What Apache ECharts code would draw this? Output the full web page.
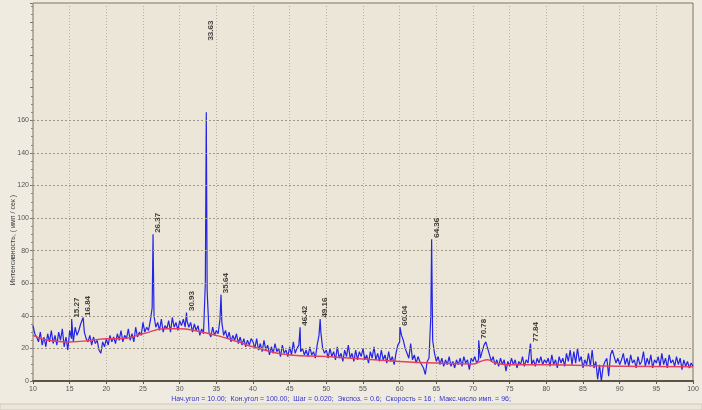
<!DOCTYPE html>
<html>
<head>
<meta charset="utf-8">
<script src="https://cdn.jsdelivr.net/npm/echarts@6/dist/echarts.min.js"></script>
<style>
html,body{margin:0;padding:0;background:#EFEBE0;}
#chart{width:702px;height:410px;}
</style>
</head>
<body>
<div id="chart"></div>
<script>
// Scan grid (degrees 2θ) as in the instrument header
const scanStart = 10;
const scanStep = 0.25;

const counts10to20 = [34,29,27,24,30,22,27,21,29,24,31,23,28,22,30,25,32,21,27,19,31,26,24,33,28,31,35,34,30,26,24,28,22,27,23,25,19,17,24,21];
const counts20to30 = [26,22,28,24,27,23,29,25,31,24,28,26,32,25,29,24,33,27,30,28,36,30,33,31,37,45,40,33,36,31,38,30,34,32,37,30,39,33,36,31];
const counts30to40 = [37,34,38,33,37,33,36,30,35,31,34,28,32,29,60,55,30,27,33,28,31,29,38,36,28,31,26,30,24,28,25,29,23,27,22,26,21,25,22,26];
const counts40to50 = [24,20,26,19,23,18,25,19,22,16,21,17,23,18,20,15,22,17,19,15,21,16,24,17,20,22,18,20,16,19,15,21,16,18,14,22,28,30,20,17];
const counts50to60 = [19,14,20,15,18,13,21,14,17,12,19,15,22,14,17,12,19,13,18,15,20,13,16,11,18,14,21,13,17,12,19,13,16,11,18,12,15,10,17,22];
const counts60to70 = [24,28,25,20,17,14,23,13,16,11,15,12,10,8,4,12,14,40,25,17,12,15,10,14,9,13,10,15,9,12,8,13,10,14,9,15,11,13,7,14];
const counts70to80 = [12,15,11,13,14,18,22,24,20,16,12,15,10,13,9,14,10,13,6,12,9,14,10,13,8,12,10,15,9,13,11,12,10,13,9,14,11,15,10,13];
const counts80to90 = [11,14,9,16,10,13,8,15,11,14,9,17,12,19,10,18,11,20,12,15,8,13,10,17,9,19,8,12,1,10,0,9,12,14,3,16,19,15,11,14];
const counts90to100 = [10,13,17,10,14,9,16,11,13,8,15,10,12,18,9,14,10,16,8,13,11,15,9,17,10,14,8,16,11,13,9,15,10,14,7,13,9,12,8,11,9];

// Identified reflections
const peakAngles = [15.27,16.84,26.37,30.93,33.63,35.64,46.42,49.16,60.04,64.36,70.78,77.84];
const peakCounts = [38,39,90,42,165,53,33,38,33,87,25,23];
const peakLabels = ['15.27','16.84','26.37','30.93','33.63','35.64','46.42','49.16','60.04','64.36','70.78','77.84'];

// Fitted background (red curve)
const bgAngles = [10,12,15,18,20,22,25,28,30,32,35,38,40,45,50,55,60,65,70,71,72,73,75,80,90,100];
const bgCounts = [28,25,24,25,26,26,29,32,32,31,28,24,21,16,15,13.5,12,11,10.5,12,13,11,10,10,9,8.8];

// Axis ticks
const yTicks = [0,20,40,60,80,100,120,140,160];
const yLabelTop = 160;
const labelCeiling = 208;

const headerText = 'Нач.угол = 10.00;  Кон.угол = 100.00;  Шаг = 0.020;  Экспоз. = 0.6;  Скорость = 16 ;  Макс.число имп. = 96;';
const yTitle = 'Интенсивность, ( имп / сек )';

// ---- build ----
const allCounts = [].concat(counts10to20,counts20to30,counts30to40,counts40to50,counts50to60,counts60to70,counts70to80,counts80to90,counts90to100);
let pts = allCounts.map((c,i)=>[+(scanStart + i*scanStep).toFixed(2), c]);
peakAngles.forEach((a,i)=>pts.push([a, peakCounts[i]]));
pts.sort((p,q)=>p[0]-q[0]);

const bgData = bgAngles.map((a,i)=>[a,bgCounts[i]]);
const peakData = peakAngles.map((a,i)=>({value:[a, peakCounts[i] > 150 ? labelCeiling : peakCounts[i]], name:peakLabels[i]}));

const chart = echarts.init(document.getElementById('chart'), null, {renderer:'canvas'});
const font = 'Liberation Sans';
chart.setOption({
  backgroundColor:'#EFEBE0',
  animation:false,
  grid:{left:33,right:9,top:3,bottom:29,show:true,backgroundColor:'#ECE6D8',borderColor:'#7d7565',borderWidth:1},
  xAxis:{type:'value',min:10,max:100,interval:5,
    axisLine:{onZero:false,lineStyle:{color:'#5b5446',width:2}},
    axisTick:{length:3,lineStyle:{color:'#5b5446'}},
    axisLabel:{fontSize:7,color:'#555',margin:5,fontFamily:font},
    splitLine:{show:true,lineStyle:{color:'#b8b09e',type:[1,2],width:1}}},
  yAxis:{type:'value',min:0,max:232,interval:20,
    axisLine:{show:true,lineStyle:{color:'#b4ac9a'}},
    axisTick:{show:true,length:3,lineStyle:{color:'#777'}},
    minorTick:{show:true,splitNumber:4,length:2,lineStyle:{color:'#888'}},
    axisLabel:{fontSize:7,color:'#555',margin:4,fontFamily:font,formatter:v=>v<=yLabelTop?String(v):''},
    splitLine:{show:false}},
  series:[
    {type:'line',data:pts,showSymbol:false,symbol:'none',lineStyle:{color:'#2424e6',width:1.2},z:3,
      markLine:{silent:true,symbol:'none',label:{show:false},
        lineStyle:{color:'#a0988a',type:[2,2],width:1},
        data:yTicks.filter(v=>v>0).map(v=>({yAxis:v}))}},
    {type:'line',data:bgData,smooth:true,showSymbol:false,symbol:'none',lineStyle:{color:'#e5405f',width:1.5},z:4},
    {type:'scatter',data:peakData,symbol:'rect',symbolSize:1,itemStyle:{color:'rgba(0,0,0,0)'},z:5,
      label:{show:true,position:'top',distance:1,rotate:90,align:'left',verticalAlign:'middle',offset:[0,5],
        formatter:p=>p.name,fontSize:8,fontWeight:'bold',color:'#111',fontFamily:font}}
  ],
  graphic:[
    {type:'text',x:13,y:240,rotation:Math.PI/2,style:{text:yTitle,fontSize:7,fill:'#333',fontFamily:font,align:'center',verticalAlign:'middle'}},
    {type:'text',x:341,y:399,style:{text:headerText,fontSize:7,fill:'#3434c8',fontFamily:font,align:'center',verticalAlign:'middle'}},
    {type:'rect',shape:{x:0,y:404,width:702,height:6},style:{fill:'#EAE6DA',stroke:'#cfc9ba',lineWidth:1}}
  ]
});
</script>
</body>
</html>
